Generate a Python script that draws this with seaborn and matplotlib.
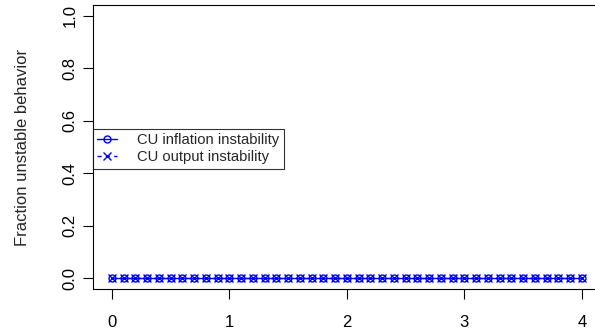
import numpy as np
import pandas as pd
import matplotlib
matplotlib.use("Agg")
import matplotlib.pyplot as plt
import seaborn as sns

# Shock-size grid and the fraction of runs showing unstable behaviour
shock_size = [round(0.1 * i, 1) for i in range(41)]
inflation_instability = [0.0] * 41
output_instability = [0.0] * 41

x_ticks = [0, 1, 2, 3, 4]
y_ticks = [0.0, 0.2, 0.4, 0.6, 0.8, 1.0]

df = pd.DataFrame({
    "shock": shock_size * 2,
    "fraction": inflation_instability + output_instability,
    "series": ["CU inflation instability"] * 41 + ["CU output instability"] * 41,
})

sns.set_theme(style="ticks")
plt.rcParams["font.family"] = ["Liberation Sans", "DejaVu Sans"]

fig = plt.figure(figsize=(5.95, 3.34), dpi=100)
ax = fig.add_axes([0.1563, 0.1347, 0.8534, 0.8503])

blue = "#0000FF"
sub = df[df.series == "CU inflation instability"]
sns.lineplot(data=sub, x="shock", y="fraction", ax=ax, color=blue, lw=1.0,
             marker="o", markersize=5.0, markerfacecolor="none",
             markeredgecolor=blue, markeredgewidth=1.0,
             label="CU inflation instability")
sub = df[df.series == "CU output instability"]
sns.lineplot(data=sub, x="shock", y="fraction", ax=ax, color=blue, lw=1.0,
             linestyle=(0, (3, 3)), marker="x", markersize=5.5,
             markeredgecolor=blue, markeredgewidth=1.0,
             label="CU output instability")

ax.set_xlim(-0.16, 4.16)
ax.set_ylim(-0.04, 1.04)
ax.set_xticks(x_ticks)
ax.set_xticklabels([str(t) for t in x_ticks])
ax.set_yticks(y_ticks)
ax.set_yticklabels([f"{t:.1f}" for t in y_ticks], rotation=90, va="center")
ax.set_xlabel("")
ax.set_ylabel("Fraction unstable behavior", fontsize=12, labelpad=23.5)
ax.tick_params(axis="both", length=7.5, width=0.8, color="black",
               labelsize=12, labelcolor="black")
ax.tick_params(axis="x", pad=11)
ax.tick_params(axis="y", pad=3.5)
for s in ax.spines.values():
    s.set_visible(True)
    s.set_color("black")
    s.set_linewidth(0.8)

leg = ax.legend(loc="upper left", bbox_to_anchor=(0.0, 0.565),
                borderaxespad=0, frameon=True, fancybox=False,
                fontsize=10.6, handlelength=1.3, handletextpad=1.4,
                labelspacing=0.22, borderpad=0.3)
leg.get_frame().set_edgecolor("black")
leg.get_frame().set_linewidth(0.8)

fig.savefig("out.png", dpi=100)
